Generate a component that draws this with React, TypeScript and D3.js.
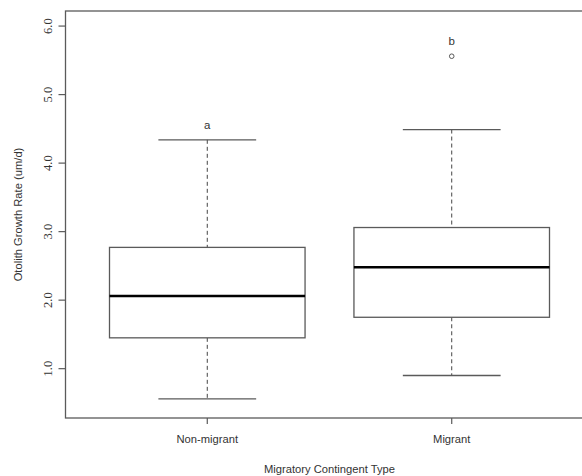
import React from "react";
import * as d3 from "d3";

// Box-plot summary statistics per migratory contingent
const categories = ["Non-migrant", "Migrant"];
const lowerWhisker = [0.56, 0.9];
const q1 = [1.45, 1.75];
const median = [2.06, 2.48];
const q3 = [2.77, 3.06];
const upperWhisker = [4.34, 4.49];
const outliers = [[], [5.56]];
const groupLetters = ["a", "b"];
const yTicks = [1, 2, 3, 4, 5, 6];

const W = 582;
const H = 476;
const plot = { left: 65.5, right: 593.5, top: 11, bottom: 418 };

export default function App() {
  // x positions 1..n, with the usual 4% padding around [0.5, n + 0.5]
  const n = categories.length;
  const x = d3
    .scaleLinear()
    .domain([0.42, n + 0.58])
    .range([plot.left, plot.right]);
  // y limits 0.5..6 padded by 4%
  const y = d3.scaleLinear().domain([0.28, 6.22]).range([plot.bottom, plot.top]);

  const lineCol = "#5a5a5a";
  const textCol = "#333";
  const boxHalf = 0.4;
  const capHalf = 0.2;

  const fmt = d3.format(".1f");

  return (
    <svg
      width={W}
      height={H}
      style={{ position: "absolute", left: 0, top: 0, background: "#fff" }}
    >
      {/* plot frame */}
      <rect
        x={plot.left}
        y={plot.top}
        width={plot.right - plot.left}
        height={plot.bottom - plot.top}
        fill="none"
        stroke={lineCol}
        strokeWidth={1.3}
      />

      {/* y axis ticks and labels */}
      {yTicks.map((t) => (
        <g key={t}>
          <line
            x1={plot.left - 7}
            x2={plot.left}
            y1={y(t)}
            y2={y(t)}
            stroke={lineCol}
            strokeWidth={1.2}
          />
          <text
            transform={`translate(${plot.left - 14},${y(t)}) rotate(-90)`}
            textAnchor="middle"
            fontFamily="'Liberation Serif', 'DejaVu Serif', serif"
            fontSize={12.5}
            fill={textCol}
          >
            {fmt(t)}
          </text>
        </g>
      ))}

      {/* x axis ticks and labels */}
      {categories.map((c, i) => (
        <g key={c}>
          <line
            x1={x(i + 1)}
            x2={x(i + 1)}
            y1={plot.bottom}
            y2={plot.bottom + 6}
            stroke={lineCol}
            strokeWidth={1.2}
          />
          <text
            x={x(i + 1)}
            y={plot.bottom + 25}
            textAnchor="middle"
            fontFamily="'Liberation Sans', Arial, sans-serif"
            fontSize={11.2}
            fill={textCol}
          >
            {c}
          </text>
        </g>
      ))}

      {/* axis titles */}
      <text
        x={(plot.left + plot.right) / 2}
        y={473}
        textAnchor="middle"
        fontFamily="'Liberation Sans', Arial, sans-serif"
        fontSize={11.2}
        fill={textCol}
      >
        Migratory Contingent Type
      </text>
      <text
        transform={`translate(22,${(plot.top + plot.bottom) / 2}) rotate(-90)`}
        textAnchor="middle"
        fontFamily="'Liberation Sans', Arial, sans-serif"
        fontSize={11.2}
        fill={textCol}
      >
        Otolith Growth Rate (um/d)
      </text>

      {/* boxes */}
      {categories.map((c, i) => {
        const cx = x(i + 1);
        const bl = x(i + 1 - boxHalf);
        const br = x(i + 1 + boxHalf);
        const cl = x(i + 1 - capHalf);
        const cr = x(i + 1 + capHalf);
        return (
          <g key={c}>
            {/* whiskers */}
            <line
              x1={cx}
              x2={cx}
              y1={y(upperWhisker[i])}
              y2={y(q3[i])}
              stroke="#444"
              strokeWidth={1}
              strokeDasharray="4,3"
            />
            <line
              x1={cx}
              x2={cx}
              y1={y(q1[i])}
              y2={y(lowerWhisker[i])}
              stroke="#444"
              strokeWidth={1}
              strokeDasharray="4,3"
            />
            <line
              x1={cl}
              x2={cr}
              y1={y(upperWhisker[i])}
              y2={y(upperWhisker[i])}
              stroke={lineCol}
              strokeWidth={1.3}
            />
            <line
              x1={cl}
              x2={cr}
              y1={y(lowerWhisker[i])}
              y2={y(lowerWhisker[i])}
              stroke={lineCol}
              strokeWidth={1.3}
            />
            {/* interquartile box */}
            <rect
              x={bl}
              y={y(q3[i])}
              width={br - bl}
              height={y(q1[i]) - y(q3[i])}
              fill="#fff"
              stroke={lineCol}
              strokeWidth={1.3}
            />
            {/* median */}
            <line
              x1={bl}
              x2={br}
              y1={y(median[i])}
              y2={y(median[i])}
              stroke="#000"
              strokeWidth={2.6}
            />
            {/* outliers */}
            {outliers[i].map((v, k) => (
              <circle
                key={k}
                cx={cx}
                cy={y(v)}
                r={2.3}
                fill="none"
                stroke={lineCol}
                strokeWidth={1}
              />
            ))}
            {/* significance letter */}
            <text
              x={cx}
              y={
                (outliers[i].length
                  ? y(d3.max(outliers[i]) as number)
                  : y(upperWhisker[i])) - 11
              }
              textAnchor="middle"
              fontFamily="'Liberation Sans', Arial, sans-serif"
              fontSize={11.5}
              fill={textCol}
            >
              {groupLetters[i]}
            </text>
          </g>
        );
      })}
    </svg>
  );
}
